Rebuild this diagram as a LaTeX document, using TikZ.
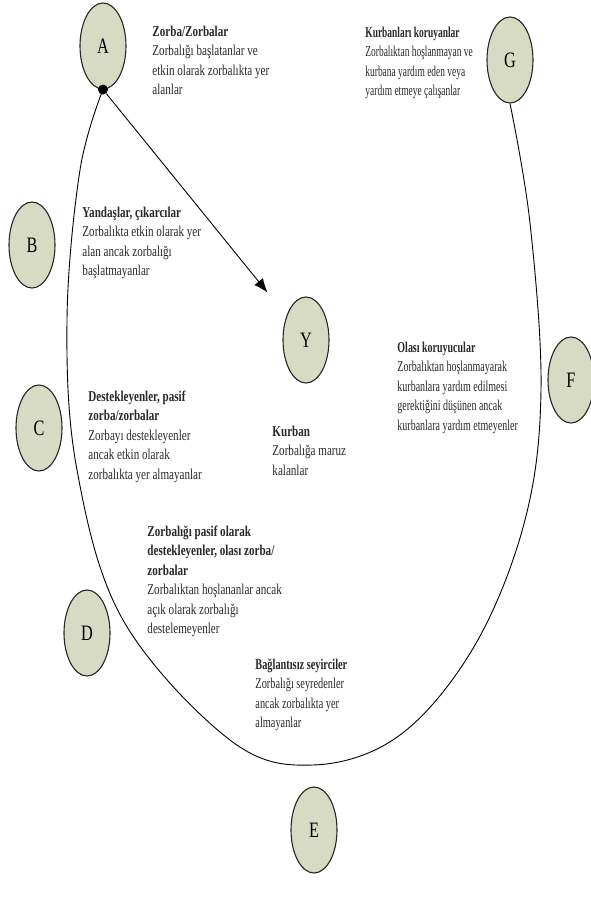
\documentclass[tikz,border=0pt]{standalone}
\usepackage{graphicx}
\usepackage{fontspec}
\setmainfont{Liberation Serif}[FakeStretch=0.74]
\usetikzlibrary{positioning,shapes.geometric,arrows.meta}
\definecolor{roleFill}{RGB}{216,219,196}
\definecolor{roleText}{RGB}{40,40,40}
\tikzstyle{role}=[draw=black!85,fill=roleFill,ellipse,line width=1.1pt,
  minimum width=46pt,minimum height=86pt,inner sep=0pt,
  font=\fontsize{22}{22}\selectfont]
\tikzstyle{info}=[anchor=north west,inner sep=0pt,text=roleText,
  font=\fontsize{15}{19.5}\selectfont]
\tikzstyle{hub}=[circle,fill=black,inner sep=0pt,minimum size=10pt]
\newcommand{\newRole}[3]{\node[role](#1) at (#3){#2};}
\newcommand{\newInfo}[4][1]{\node[info](#2) at (#4){\scalebox{#1}[1]{%
  \begin{tabular}{@{}l@{}}#3\end{tabular}}};}

\begin{document}
\begin{tikzpicture}[x=1pt,y=-1pt,
    >={Latex[length=14pt,width=11pt]},
    line width=0.9pt  % thin lines like the scan
    ]
    \useasboundingbox (0,0) rectangle (591,900);
    \newRole{A}{A}{103,46}
    \newRole{G}{G}{510,60}
    \newRole{B}{B}{32,245}
    \newRole{Y}{Y}{306,340}
    \newRole{F}{F}{571,380}
    \newRole{C}{C}{39,428}
    \newRole{D}{D}{87,633}
    \newRole{E}{E}{314,830}
    \node[hub] (hub) at (A.south) {};
    \newInfo{infoA}{\textbf{Zorba/Zorbalar}\\Zorbalığı başlatanlar ve\\etkin olarak zorbalıkta yer\\alanlar}{152,22}
    \newInfo[0.85]{infoG}{\textbf{Kurbanları koruyanlar}\\Zorbalıktan hoşlanmayan ve\\kurbana yardım eden veya\\yardım etmeye çalışanlar}{365,23}
    \newInfo{infoB}{\textbf{Yandaşlar, çıkarcılar}\\Zorbalıkta etkin olarak yer\\alan ancak zorbalığı\\başlatmayanlar}{82,203}
    \newInfo[0.9]{infoF}{\textbf{Olası koruyucular}\\Zorbalıktan hoşlanmayarak\\kurbanlara yardım edilmesi\\gerektiğini düşünen ancak\\kurbanlara yardım etmeyenler}{397,338}
    \newInfo{infoY}{\textbf{Kurban}\\Zorbalığa maruz\\kalanlar}{272,422}
    \newInfo{infoC}{\textbf{Destekleyenler, pasif}\\\textbf{zorba/zorbalar}\\Zorbayı destekleyenler\\ancak etkin olarak\\zorbalıkta yer almayanlar}{88,387}
    \newInfo{infoD}{\textbf{Zorbalığı pasif olarak}\\\textbf{destekleyenler, olası zorba/}\\\textbf{zorbalar}\\Zorbalıktan hoşlananlar ancak\\açık olarak zorbalığı\\destelemeyenler}{147,522}
    \newInfo[0.93]{infoE}{\textbf{Bağlantısız seyirciler}\\Zorbalığı seyredenler\\ancak zorbalıkta yer\\almayanlar}{255,655}
    \draw[->,shorten >=30pt] (hub) -- (Y);
    \draw plot[smooth,tension=0.6] coordinates {(hub.center) (80,170) (67,320)
      (77,470) (123,620) (230,740) (313,765) (400,735) (475,645) (525,520)
      (541,390) (530,223) (G.south)};
\end{tikzpicture}
\end{document}
